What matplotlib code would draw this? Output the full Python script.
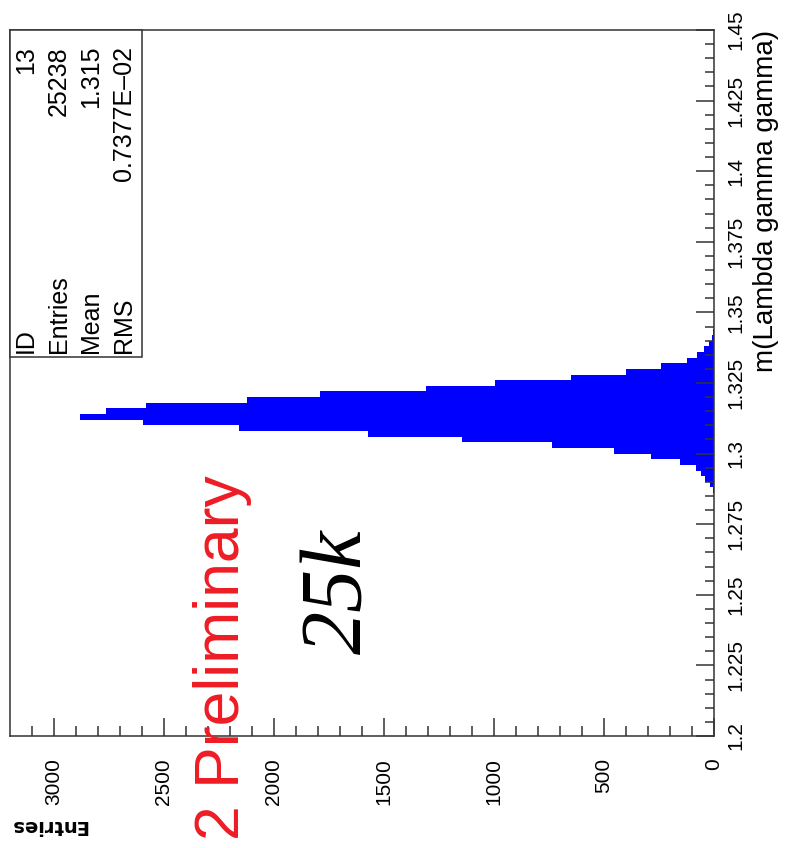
import matplotlib
matplotlib.use('Agg')
import matplotlib.pyplot as plt
from matplotlib.ticker import MultipleLocator, FuncFormatter
from matplotlib.patches import Rectangle
import numpy as np

bin_low = 1.286      # GeV, lower edge of first filled bin
bin_width = 0.002    # GeV
counts = [4, 20, 40, 61, 81, 153, 285, 455, 738, 1145, 1571, 2160, 2593, 2880,
          2763, 2581, 2123, 1791, 1310, 995, 650, 399, 240, 123, 76, 46, 24, 11, 4]

stat_labels = ['ID', 'Entries', 'Mean', 'RMS']
stat_values = ['13', '25238', '1.315', '0.7377E\u201302']

mass_range = (1.2, 1.45)
count_max = 3198

W, H = 786, 848
SANS = ['Liberation Sans', 'DejaVu Sans']
plt.rcParams['font.family'] = SANS


def fx(px):
    return px / W


def fy(py):
    return 1 - py / H


edges = bin_low + bin_width * np.arange(len(counts) + 1)

fig = plt.figure(figsize=(W / 100, H / 100), dpi=100)
ax = fig.add_axes([fx(10), fy(736), fx(704), 706 / H])

ax.stairs(counts, edges, orientation='horizontal', fill=True,
          color='#0000ff', linewidth=0)

ax.set_xlim(count_max, 0)
ax.set_ylim(*mass_range)

# frame
for sp in ax.spines.values():
    sp.set_color('#333333')
    sp.set_linewidth(1.1)

# mass axis on the right
ax.yaxis.tick_right()
ax.yaxis.set_major_locator(MultipleLocator(0.025))
ax.yaxis.set_minor_locator(MultipleLocator(0.005))
ax.yaxis.set_major_formatter(FuncFormatter(lambda v, p: f'{round(v, 3):g}'))
ax.tick_params(axis='y', which='both', direction='in', color='#333333',
               width=1.1, labelsize=15, labelrotation=90, pad=9)
ax.tick_params(axis='y', which='major', length=13)
ax.tick_params(axis='y', which='minor', length=6.5)
for lab in ax.get_yticklabels():
    lab.set_va('center')

# counts axis at the bottom
ax.xaxis.set_major_locator(MultipleLocator(500))
ax.xaxis.set_minor_locator(MultipleLocator(100))
ax.tick_params(axis='x', which='both', direction='in', color='#333333',
               width=1.1, labelsize=15, labelrotation=90, pad=16)
ax.tick_params(axis='x', which='major', length=13)
ax.tick_params(axis='x', which='minor', length=7)

# axis titles
fig.text(fx(766), fy(30), 'm(Lambda gamma gamma)', rotation=90,
         ha='center', va='top', fontsize=20)
fig.text(fx(10), fy(825), 'Entries', rotation=180, ha='left', va='center',
         fontsize=14, fontweight='bold', family='DejaVu Sans')

# stats box
fig.add_artist(Rectangle((fx(10), fy(357)), fx(131.7), 327 / H,
                         transform=fig.transFigure, facecolor='white',
                         edgecolor='#333333', linewidth=1.1))
for i, (lab, val) in enumerate(zip(stat_labels, stat_values)):
    xc = fx(26 + i * 32.7)
    fig.text(xc, fy(353), lab, rotation=90, ha='center', va='bottom',
             fontsize=18)
    fig.text(xc, fy(46), val, rotation=90, ha='center', va='top',
             fontsize=18)

# overlay labels
fig.text(fx(222), fy(475), '2 Preliminary', rotation=90, ha='center',
         va='top', fontsize=45, color='#ee1c24')
fig.text(fx(340), fy(592), '25k', rotation=90, ha='center', va='center',
         fontsize=62, family=['Liberation Serif', 'DejaVu Serif'],
         style='italic')

fig.savefig('out.png', dpi=100)
